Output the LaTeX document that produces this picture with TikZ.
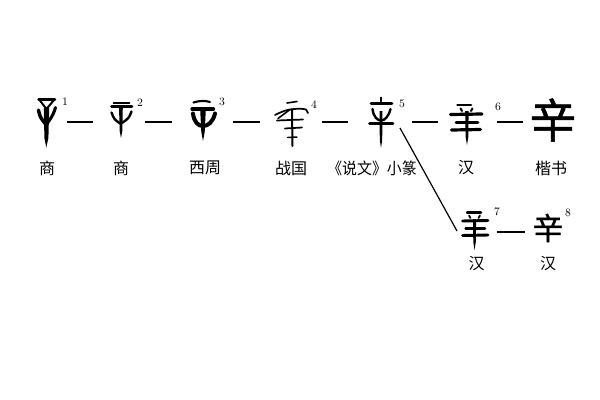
\documentclass[tikz,border=0pt]{standalone}
\usepackage{fontspec}
\newfontfamily\cjk{Noto Sans CJK SC}
\newfontfamily\cjkb[FakeBold=1.2]{Noto Sans CJK SC}
\begin{document}
\begin{tikzpicture}[x=0.75pt,y=-0.75pt,
  gs/.style={line width=#1, line cap=round, line join=round},
  glyphbox/.style={inner sep=0pt, minimum height=30pt},
  lab/.style={font=\cjk\fontsize{12}{12}\selectfont, inner sep=0pt},
  sup/.style={font=\fontsize{8.5}{8.5}\selectfont, inner sep=0pt},
  link/.style={line width=0.9pt}]
\fill[white] (0,0) rectangle (600,400);
\useasboundingbox (0,0) rectangle (600,400);

% glyph boxes (anchors for connectors)
\node[glyphbox, minimum width=13.5pt] (g1) at (47,122) {};
\node[glyphbox, minimum width=17.25pt] (g2) at (121.5,122) {};
\node[glyphbox, minimum width=16.5pt] (g3) at (203,122) {};
\node[glyphbox, minimum width=24.75pt] (g4) at (289.5,122) {};
\node[glyphbox, minimum width=18pt] (g5) at (381,122) {};
\node[glyphbox, minimum width=24.75pt] (g6) at (466.5,122) {};
\node[inner sep=0pt, font=\cjkb\fontsize{35}{35}\selectfont] (gk) at (553,120) {辛};
\node[glyphbox, minimum width=19.5pt] (g7) at (475,232) {};
\node[inner sep=0pt, font=\cjkb\fontsize{23}{23}\selectfont] (g8) at (548,228) {辛};

% glyph 1 (Shang)
\draw[gs=1.8pt] (38.5,99.5) -- (55,99.5);
\draw[gs=1.5pt] (39.5,100) -- (46.5,109) -- (54,100);
\draw[gs=2.6pt] (38.5,110) .. controls (40,117) .. (45.5,124);
\draw[gs=2.3pt] (55.5,107.5) .. controls (53,115) .. (47.5,123);
\fill (43.8,108) -- (49.2,108) -- (48.4,138) -- (46.3,147.5) -- (44.4,138) -- cycle;

% glyph 2 (Shang)
\draw[gs=1.3pt] (113.5,103) -- (129.5,103);
\draw[gs=1.9pt] (111.5,106.5) -- (132,106.5);
\draw[gs=1.8pt] (111.5,112.5) .. controls (114,119) .. (120,123.5);
\draw[gs=1.8pt] (131.5,111.5) .. controls (129,118) .. (122,123);
\fill (119,107) -- (122.8,107) -- (122.3,131) -- (121,138) -- (119.7,131) -- cycle;

% glyph 3 (Western Zhou)
\draw[gs=1.6pt] (193.5,102.5) .. controls (200,100.5) and (205,100.5) .. (210,102);
\draw[gs=2.5pt] (192,109) -- (213.5,109);
\draw[gs=3pt] (193,113.5) .. controls (194,122) and (198,126) .. (203,126) .. controls (208,126) and (213,122) .. (215,113.5);
\fill (200.2,110) -- (205.8,110) -- (204.7,132) -- (203,141) -- (201.3,132) -- cycle;

% glyph 4 (Warring States)
\draw[gs=1.2pt] (287,103) -- (297,101.5);
\draw[gs=1.3pt] (275,115) .. controls (281,112) and (286,110) .. (290,109.5) .. controls (296,108.5) and (303,108.5) .. (306,109.5) .. controls (307.5,110.5) .. (308,113);
\draw[gs=1.2pt] (278,118.5) -- (290,109.5);
\draw[gs=1.3pt] (277,120.5) -- (303,119.5);
\draw[gs=1.3pt] (285,128.5) -- (302,127.5);
\draw[gs=1.5pt] (292,109.5) -- (292.5,146);
\draw[gs=1.1pt] (287.5,137.5) -- (297,137);

% glyph 5 (small seal)
\draw[gs=1.3pt] (381,97.5) -- (381,101.5);
\draw[gs=1.9pt] (371,103.5) -- (392,103.5);
\draw[gs=1.8pt] (372.5,109) .. controls (373.5,117) and (377.5,120.5) .. (381,120.5) .. controls (384.5,120.5) and (388.5,117) .. (390.5,109);
\draw[gs=1.9pt] (369.5,123.5) -- (393,123.5);
\fill (379.5,111) -- (382.5,111) -- (382.2,140) -- (381,148) -- (379.8,140) -- cycle;

% glyph 6 (Han)
\draw[gs=2pt] (457.5,105) -- (471,105);
\draw[gs=1.5pt] (460.5,108.5) -- (462,111);
\draw[gs=1.5pt] (472.5,108.5) -- (471,111);
\draw[gs=2.4pt] (450.5,114.5) -- (482,114);
\draw[gs=2pt] (456,122.5) -- (478,122.5);
\draw[gs=2.4pt] (451.5,130) -- (480.5,129.5);
\fill (465.2,111) -- (468.6,111) -- (468.3,137) -- (467,145) -- (465.6,137) -- cycle;

% glyph 7 (Han)
\draw[gs=1.8pt] (467,212.5) -- (481,212.5);
\draw[gs=1.3pt] (469,215.5) -- (470.5,218);
\draw[gs=1.3pt] (480,215.5) -- (478.5,218);
\draw[gs=2.2pt] (462.5,221) -- (488,220.5);
\draw[gs=1.8pt] (465.5,228.5) -- (485,228.5);
\draw[gs=2.2pt] (462.5,235.5) -- (488,235);
\fill (473,219) -- (476.2,219) -- (475.8,242) -- (474.5,250) -- (473.3,242) -- cycle;

% superscript numbers
\node[sup] (s1) at (65,102) {1};
\node[sup] (s2) at (140,103) {2};
\node[sup] (s3) at (222,102) {3};
\node[sup] (s4) at (314,105) {4};
\node[sup] (s5) at (402,104) {5};
\node[sup] (s6) at (498,107) {6};
\node[sup] (s7) at (497,212) {7};
\node[sup] (s8) at (568,213) {8};

% connectors
\draw[link, shorten <=8.25pt, shorten >=12.75pt] (g1.east) -- (g2.west);
\draw[link, shorten <=9pt, shorten >=15pt] (g2.east) -- (g3.west);
\draw[link, shorten <=14.25pt, shorten >=9.75pt] (g3.east) -- (g4.west);
\draw[link, shorten <=12pt, shorten >=15.75pt] (g4.east) -- (g5.west);
\draw[link, shorten <=14.25pt, shorten >=9pt] (g5.east) -- (g6.west);
\draw[link, shorten <=10.5pt, shorten >=4.5pt] (g6.east) -- (g6.east -| gk.west);
\draw[link, shorten <=6.75pt, shorten >=5.25pt] (g7.east) -- (g7.east -| g8.west);
\coordinate (d5) at (400,128);
\coordinate (d7) at (457,231);
\draw[line width=0.9pt] (d5) -- (d7);

% labels
\node[lab] (l1) at (47,168) {商};
\node[lab] (l2) at (121,168) {商};
\node[lab] (l3) at (205,168) {西周};
\node[lab] (l4) at (291,168) {战国};
\node[lab] (l5) at (372,168) {\addfontfeature{FakeStretch=0.93}《说文》小篆};
\node[lab] (l6) at (466,168) {汉};
\node[lab] (l7) at (551,168) {楷书};
\node[lab] (l8) at (476.5,264) {汉};
\node[lab] (l9) at (548,264) {汉};
\end{tikzpicture}
\end{document}
